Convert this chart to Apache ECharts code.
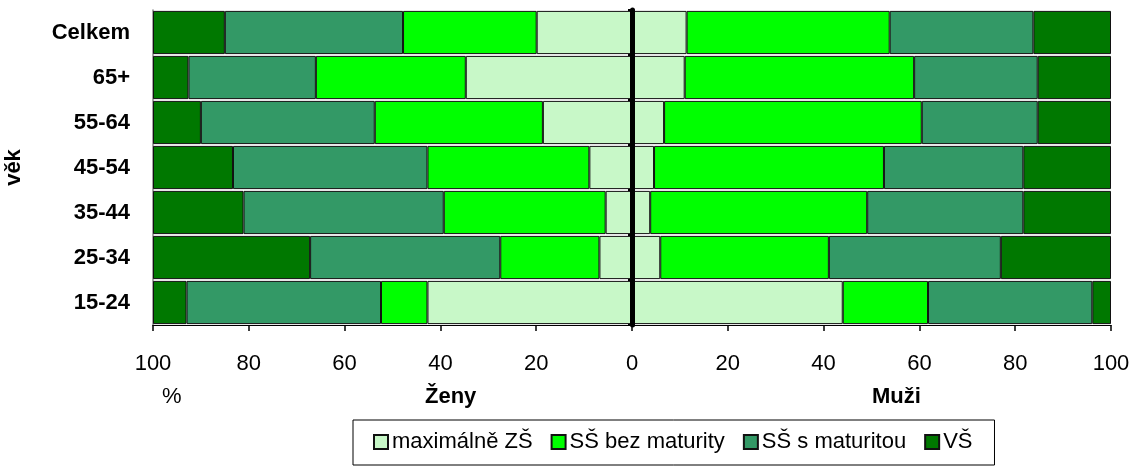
<!DOCTYPE html>
<html>
<head>
<meta charset="utf-8">
<script src="https://cdn.jsdelivr.net/npm/echarts@6/dist/echarts.min.js"></script>
<style>html,body{margin:0;padding:0;background:#fff}#c{width:1140px;height:468px}</style>
</head>
<body>
<div id="c"></div>
<script>
const categories = ['15-24', '25-34', '35-44', '45-54', '55-64', '65+', 'Celkem'];
const levels = ['maximálně ZŠ', 'SŠ bez maturity', 'SŠ s maturitou', 'VŠ'];
const colors = ['#C8F8C8', '#00FF00', '#339966', '#007800'];
const xTicks = [-100, -80, -60, -40, -20, 0, 20, 40, 60, 80, 100];

// Ženy (women), percent shares, bottom to top
const zenyZS   = [42.7, 6.8, 5.5, 8.9, 18.6, 34.7, 19.9];
const zenyBez  = [9.7, 20.7, 33.8, 33.8, 35.1, 31.3, 27.9];
const zenyMat  = [40.6, 39.7, 41.8, 40.6, 36.3, 26.6, 37.2];
const zenyVS   = [7.0, 32.8, 18.9, 16.7, 10.0, 7.4, 15.0];
// Muži (men)
const muziZS   = [44.0, 5.9, 3.8, 4.6, 6.7, 11.0, 11.4];
const muziBez  = [17.8, 35.2, 45.3, 48.0, 53.8, 47.9, 42.4];
const muziMat  = [34.3, 35.9, 32.6, 29.1, 24.2, 25.8, 30.0];
const muziVS   = [3.9, 23.0, 18.3, 18.3, 15.3, 15.3, 16.2];

const zeny = [zenyZS, zenyBez, zenyMat, zenyVS];
const muzi = [muziZS, muziBez, muziMat, muziVS];

const FONT = '"Liberation Sans", Arial, sans-serif';

function barSeries(name, data, color) {
  return {
    name: name,
    type: 'bar',
    stack: 'all',
    yAxisIndex: 0,
    barCategoryGap: '4%',
    data: data,
    itemStyle: { color: color, borderColor: '#111', borderWidth: 1 },
    emphasis: { disabled: true }
  };
}

const series = [];
levels.forEach((lv, i) => series.push(barSeries(lv, zeny[i].map(v => -v), colors[i])));
levels.forEach((lv, i) => series.push(barSeries(lv, muzi[i], colors[i])));

const chart = echarts.init(document.getElementById('c'), null, { renderer: 'canvas' });
chart.setOption({
  animation: false,
  textStyle: { fontFamily: FONT },
  grid: { left: 153, right: 29, top: 10, bottom: 143, containLabel: false, outerBoundsMode: 'none' },
  legend: {
    data: levels,
    left: 353,
    top: 420,
    padding: [11, 22, 12, 20],
    itemGap: 18,
    itemWidth: 14,
    itemHeight: 14,
    icon: 'rect',
    borderColor: '#000',
    borderWidth: 1,
    selectedMode: false,
    textStyle: { fontSize: 22, color: '#000', fontFamily: FONT, padding: [0, 0, 0, -1] }
  },
  xAxis: {
    type: 'value',
    min: xTicks[0],
    max: xTicks[xTicks.length - 1],
    interval: 20,
    splitLine: { show: false },
    axisLine: { show: true, lineStyle: { color: '#000', width: 1 } },
    axisTick: { show: true, length: 6, lineStyle: { color: '#000', width: 1.5 } },
    axisLabel: {
      margin: 28,
      fontSize: 22,
      color: '#000',
      fontFamily: FONT,
      formatter: v => String(Math.abs(v))
    }
  },
  yAxis: [
    {
      type: 'category',
      data: categories,
      position: 'left',
      name: 'věk',
      nameLocation: 'middle',
      nameRotate: 90,
      nameGap: 128,
      nameTextStyle: { fontSize: 22, fontWeight: 'bold', color: '#000', fontFamily: FONT },
      axisLine: { onZero: false, lineStyle: { color: '#888', width: 1.5 } },
      axisTick: { show: false },
      axisLabel: { margin: 23, fontSize: 22, fontWeight: 'bold', color: '#000', fontFamily: FONT }
    },
    {
      type: 'category',
      data: categories,
      position: 'left',
      z: 10,
      axisLine: { onZero: true, lineStyle: { color: '#000', width: 5 } },
      axisTick: { show: true, length: 4, inside: false, lineStyle: { color: '#000', width: 2 } },
      axisLabel: { show: false }
    }
  ],
  graphic: [
    { type: 'text', left: 162, top: 386, style: { text: '%', font: '22px ' + FONT, fill: '#000' } },
    { type: 'text', left: 425, top: 386, style: { text: 'Ženy', font: 'bold 22px ' + FONT, fill: '#000' } },
    { type: 'text', left: 872, top: 386, style: { text: 'Muži', font: 'bold 22px ' + FONT, fill: '#000' } }
  ],
  series: series
});
</script>
</body>
</html>
